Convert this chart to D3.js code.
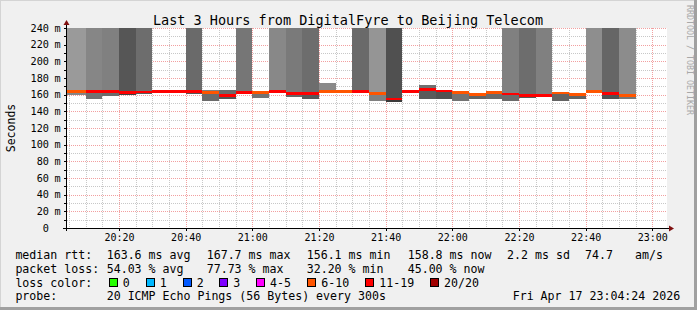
<!DOCTYPE html>
<html><head><meta charset="utf-8">
<script src="https://cdn.jsdelivr.net/npm/d3@7"></script>
<style>
html,body{margin:0;padding:0;background:#f0f0f0;}
svg{display:block;}
text{font-family:"DejaVu Sans Mono",monospace;}
</style></head><body>
<svg id="c" width="697" height="310"></svg>
<script>
// ---- data ----
const startTimes = ["20:00","20:05","20:10","20:15","20:20","20:25","20:30","20:35","20:40","20:45","20:50","20:55","21:00","21:05","21:10","21:15","21:20","21:25","21:30","21:35","21:40","21:45","21:50","21:55","22:00","22:05","22:10","22:15","22:20","22:25","22:30","22:35","22:40","22:45","22:50"];
const medianRtt = [163.6,163.6,163.8,163.6,162.8,163.5,164.0,164.0,164.0,162.8,159.0,162.8,162.8,163.6,161.2,161.2,163.6,163.6,163.8,161.6,154.5,164.0,166.0,164.2,162.6,160.3,162.8,160.6,159.0,158.9,162.0,160.0,164.0,161.2,158.8];
const lostPings = [8,8,12.5,11.5,14,13,11,11.5,13.5,9,11,12,8.5,12,13,14,7,6.5,14.5,9.5,15.5,11,12,11.5,8,7.5,6.44,12.5,14.5,12.5,8.5,7,8,14,9];
const smokeHigh = [260,260,260,260,260,260,null,null,260,165.6,165.6,260,163.5,260,260,260,173.6,164.5,260,260,260,null,171.6,165.6,164.0,162.4,164.0,260,260,260,163.2,162.4,260,260,260];
const smokeLow = [159.6,159.6,155.2,158.4,160.0,160.8,null,null,160.8,152.8,154.4,161.6,156.0,161.6,156.8,154.4,161.8,162.5,162.0,152.8,151.2,null,154.4,154.4,152.8,154.4,154.4,152.8,156.0,156.8,152.8,155.2,161.6,154.4,154.4];
const smokeDensity = [3.4,3.4,4.6,5.0,7.6,6.2,0,0,6.4,5.0,6.4,5.6,4.5,4.5,5.4,6.2,4.4,4.5,6.4,3.7,8.0,0,6.0,6.6,4.5,5.5,5.0,5.0,6.2,5.0,5.5,5.5,4.1,6.6,4.25];
const yTickValues = [0,20,40,60,80,100,120,140,160,180,200,220,240];
const yTickUnit = "m";
const lossLabels = ["0","1","2","3","4-5","6-10","11-19","20/20"];
const lossUpper = [0,1,2,3,5,10,19,20];
const lossColors = ["#26ff00","#00b8ff","#0059ff","#7e00ff","#ff00ff","#ff5500","#ff0000","#a10000"];
const rttLegend = [["median rtt:",16],["163.6 ms avg",107.3],["167.7 ms max",207.3],["156.1 ms min",307.3],["158.8 ms now",408.3],["2.2 ms sd",507.7],["74.7",585.7],["am/s",635.7]];
const lossLegend = [["packet loss:",16],["54.03 % avg",107.3],["77.73 % max",207.3],["32.20 % min",307.3],["45.00 % now",408.3]];
const probeLegend = [["probe:",16],["20 ICMP Echo Pings (56 Bytes) every 300s",107.3],["Fri Apr 17 23:04:24 2026",513.3]];
const title = "Last 3 Hours from DigitalFyre to Beijing Telecom";

// ---- setup ----
const svg = d3.select("#c");
const W = 697, H = 310;
const L = 67, R = 667, T = 28, B = 228;
const parseT = s => { const [h,m] = s.split(":").map(Number); return new Date(2026,3,17,h,m,0); };
const t0 = new Date(2026,3,17,20,4,24), t1 = new Date(2026,3,17,23,4,24);
const x = d3.scaleTime().domain([t0,t1]).range([L,R]);
const y = d3.scaleLinear().domain([0,240]).range([B,T]);
const gray = d3.scaleLinear().domain([0,10]).range([208,48]);
const grayCol = d => { const g = Math.round(gray(d)); return `rgb(${g},${g},${g})`; };
const lossColor = l => { for (let i=0;i<lossUpper.length;i++) if (l <= lossUpper[i]) return lossColors[i]; return lossColors[lossColors.length-1]; };

// background + frame
svg.append("rect").attr("width",W).attr("height",H).attr("fill","#f0f0f0");
svg.append("rect").attr("x",0).attr("y",0).attr("width",W).attr("height",1).attr("fill","#d4d4d4");
svg.append("rect").attr("x",0).attr("y",0).attr("width",1).attr("height",H).attr("fill","#d4d4d4");
svg.append("rect").attr("x",W-3).attr("y",0).attr("width",3).attr("height",H).attr("fill","#a0a0a0");
svg.append("rect").attr("x",0).attr("y",H-3).attr("width",W).attr("height",3).attr("fill","#a0a0a0");

// canvas
svg.append("rect").attr("x",L).attr("y",T).attr("width",R-L).attr("height",B-T).attr("fill","#fff");

const defs = svg.append("defs");
defs.append("clipPath").attr("id","plot").append("rect").attr("x",L).attr("y",T).attr("width",R-L).attr("height",B-T);

// grid
const grid = svg.append("g").attr("shape-rendering","crispEdges");
const minorY = d3.range(10,241,10).filter(v => v % 20 !== 0);
const majorY = d3.range(20,241,20);
const minutes5 = d3.timeMinute.every(5).range(t0, t1);
const minorX = minutes5.filter(d => d.getMinutes() % 20 !== 0);
const majorX = minutes5.filter(d => d.getMinutes() % 20 === 0);
grid.selectAll(".hy").data(minorY).join("line")
  .attr("x1",L).attr("x2",R).attr("y1",d=>Math.round(y(d))+0.5).attr("y2",d=>Math.round(y(d))+0.5)
  .attr("stroke","#c8c8c8").attr("stroke-dasharray","1,1");
grid.selectAll(".vx").data(minorX).join("line")
  .attr("y1",T).attr("y2",B).attr("x1",d=>Math.round(x(d))+0.5).attr("x2",d=>Math.round(x(d))+0.5)
  .attr("stroke","#c8c8c8").attr("stroke-dasharray","1,1");
grid.selectAll(".hY").data(majorY).join("line")
  .attr("x1",L).attr("x2",R).attr("y1",d=>Math.round(y(d))+0.5).attr("y2",d=>Math.round(y(d))+0.5)
  .attr("stroke","#f2a0a0").attr("stroke-dasharray","1,1");
grid.selectAll(".vX").data(majorX).join("line")
  .attr("y1",T).attr("y2",B).attr("x1",d=>Math.round(x(d))+0.5).attr("x2",d=>Math.round(x(d))+0.5)
  .attr("stroke","#f2a0a0").attr("stroke-dasharray","1,1");

// columns
const cols = startTimes.map((s,i) => {
  const a = parseT(s);
  return {a, b: new Date(+a + 300000), med: medianRtt[i], loss: lostPings[i], hi: smokeHigh[i], lo: smokeLow[i], den: smokeDensity[i]};
});
const plot = svg.append("g").attr("clip-path","url(#plot)").attr("shape-rendering","crispEdges");
const smoke = cols.filter(c => c.hi !== null);
plot.selectAll(".up").data(smoke).join("rect")
  .attr("x",c=>x(c.a)).attr("width",c=>x(c.b)-x(c.a))
  .attr("y",c=>y(c.hi)).attr("height",c=>y(c.med)-y(c.hi))
  .attr("fill",c=>grayCol(c.den));
plot.selectAll(".lo").data(smoke).join("rect")
  .attr("x",c=>x(c.a)).attr("width",c=>x(c.b)-x(c.a))
  .attr("y",c=>y(c.med)).attr("height",c=>y(c.lo)-y(c.med))
  .attr("fill",c=>grayCol(c.den+1.3));
plot.selectAll(".med").data(cols).join("rect")
  .attr("x",c=>x(c.a)).attr("width",c=>x(c.b)-x(c.a))
  .attr("y",c=>y(c.med)-1.2).attr("height",2.4)
  .attr("fill",c=>lossColor(c.loss));

// axes lines
const ax = svg.append("g").attr("shape-rendering","crispEdges");
ax.append("line").attr("x1",63).attr("x2",669).attr("y1",B+0.5).attr("y2",B+0.5).attr("stroke","#000");
ax.append("line").attr("x1",L-0.5).attr("x2",L-0.5).attr("y1",231).attr("y2",24).attr("stroke","#000");
ax.selectAll(".yt").data(yTickValues.concat(minorY)).join("line")
  .attr("x1",L-3).attr("x2",L).attr("y1",d=>Math.round(y(d))+0.5).attr("y2",d=>Math.round(y(d))+0.5)
  .attr("stroke","#000");
ax.selectAll(".xt").data(majorX).join("line")
  .attr("y1",B).attr("y2",B+3).attr("x1",d=>Math.round(x(d))+0.5).attr("x2",d=>Math.round(x(d))+0.5)
  .attr("stroke","#000");
// arrows
svg.append("path").attr("d","M669,225.5 L674,228.5 L669,231.5 Z").attr("fill","#7f1010");
svg.append("path").attr("d","M63.5,25 L66.5,20 L69.5,25 Z").attr("fill","#7f1010");

// y tick labels: numbers, then unit glyph in its own cell
const ylab = svg.append("g");
ylab.selectAll("text.num").data(yTickValues).join("text").attr("class","num")
  .attr("x",49).attr("y",d=>y(d)+3.6).attr("text-anchor","end")
  .attr("font-size","10.2px").attr("fill","#000").text(d=>String(d));
ylab.selectAll("text.unit").data(yTickValues.filter(d=>d!==0)).join("text").attr("class","unit")
  .attr("x",54.4).attr("y",d=>y(d)+3.6)
  .style("font-family","'DejaVu Sans Mono', 'Liberation Mono', monospace")
  .style("font-size","10.2px").style("fill","#000").text(yTickUnit);

const xAxis = d3.axisBottom(x).ticks(d3.timeMinute.every(20)).tickSize(0).tickPadding(0)
  .tickFormat(d3.timeFormat("%H:%M"));
const gx = svg.append("g").attr("transform","translate(0,234.2)").call(xAxis);
gx.select(".domain").remove();
gx.selectAll("text").attr("font-family","DejaVu Sans Mono").attr("font-size","10px").attr("fill","#000");

// title
svg.append("text").attr("x",348).attr("y",25).attr("text-anchor","middle")
  .attr("font-size","13.5px").attr("fill","#000").text(title);
// y label
svg.append("text").attr("transform","translate(15,128) rotate(-90)").attr("text-anchor","middle")
  .attr("font-size","11.5px").attr("fill","#000").text("Seconds");
// watermark
svg.append("text").attr("transform","translate(687,5) rotate(90)").attr("text-anchor","start")
  .attr("font-size","8.3px").attr("fill","#a8a8a8").text("RRDTOOL / TOBI OETIKER");

// legend
const fs = "11.6px";
const legendLine = (items, yb) => svg.append("g").selectAll("text").data(items).join("text")
  .attr("x",d=>d[1]-0.6).attr("y",yb).attr("font-size",fs).attr("fill","#000").text(d=>d[0]);
legendLine(rttLegend, 258.5);
legendLine(lossLegend, 272.5);
svg.append("text").attr("x",15.4).attr("y",286.5).attr("font-size",fs).text("loss color:");
const boxX = [108.7,145.7,182.7,219.3,256,307.3,365.3,430];
const lg = svg.append("g");
lg.selectAll("rect").data(lossLabels).join("rect")
  .attr("x",(d,i)=>boxX[i]+0.5).attr("y",278.5).attr("width",8).attr("height",8)
  .attr("fill",(d,i)=>lossColors[i]).attr("stroke","#000").attr("shape-rendering","crispEdges");
lg.selectAll("text").data(lossLabels).join("text")
  .attr("x",(d,i)=>boxX[i]+14).attr("y",286.5).attr("font-size",fs).text(d=>d);
legendLine(probeLegend, 300.3);
</script>
</body></html>
